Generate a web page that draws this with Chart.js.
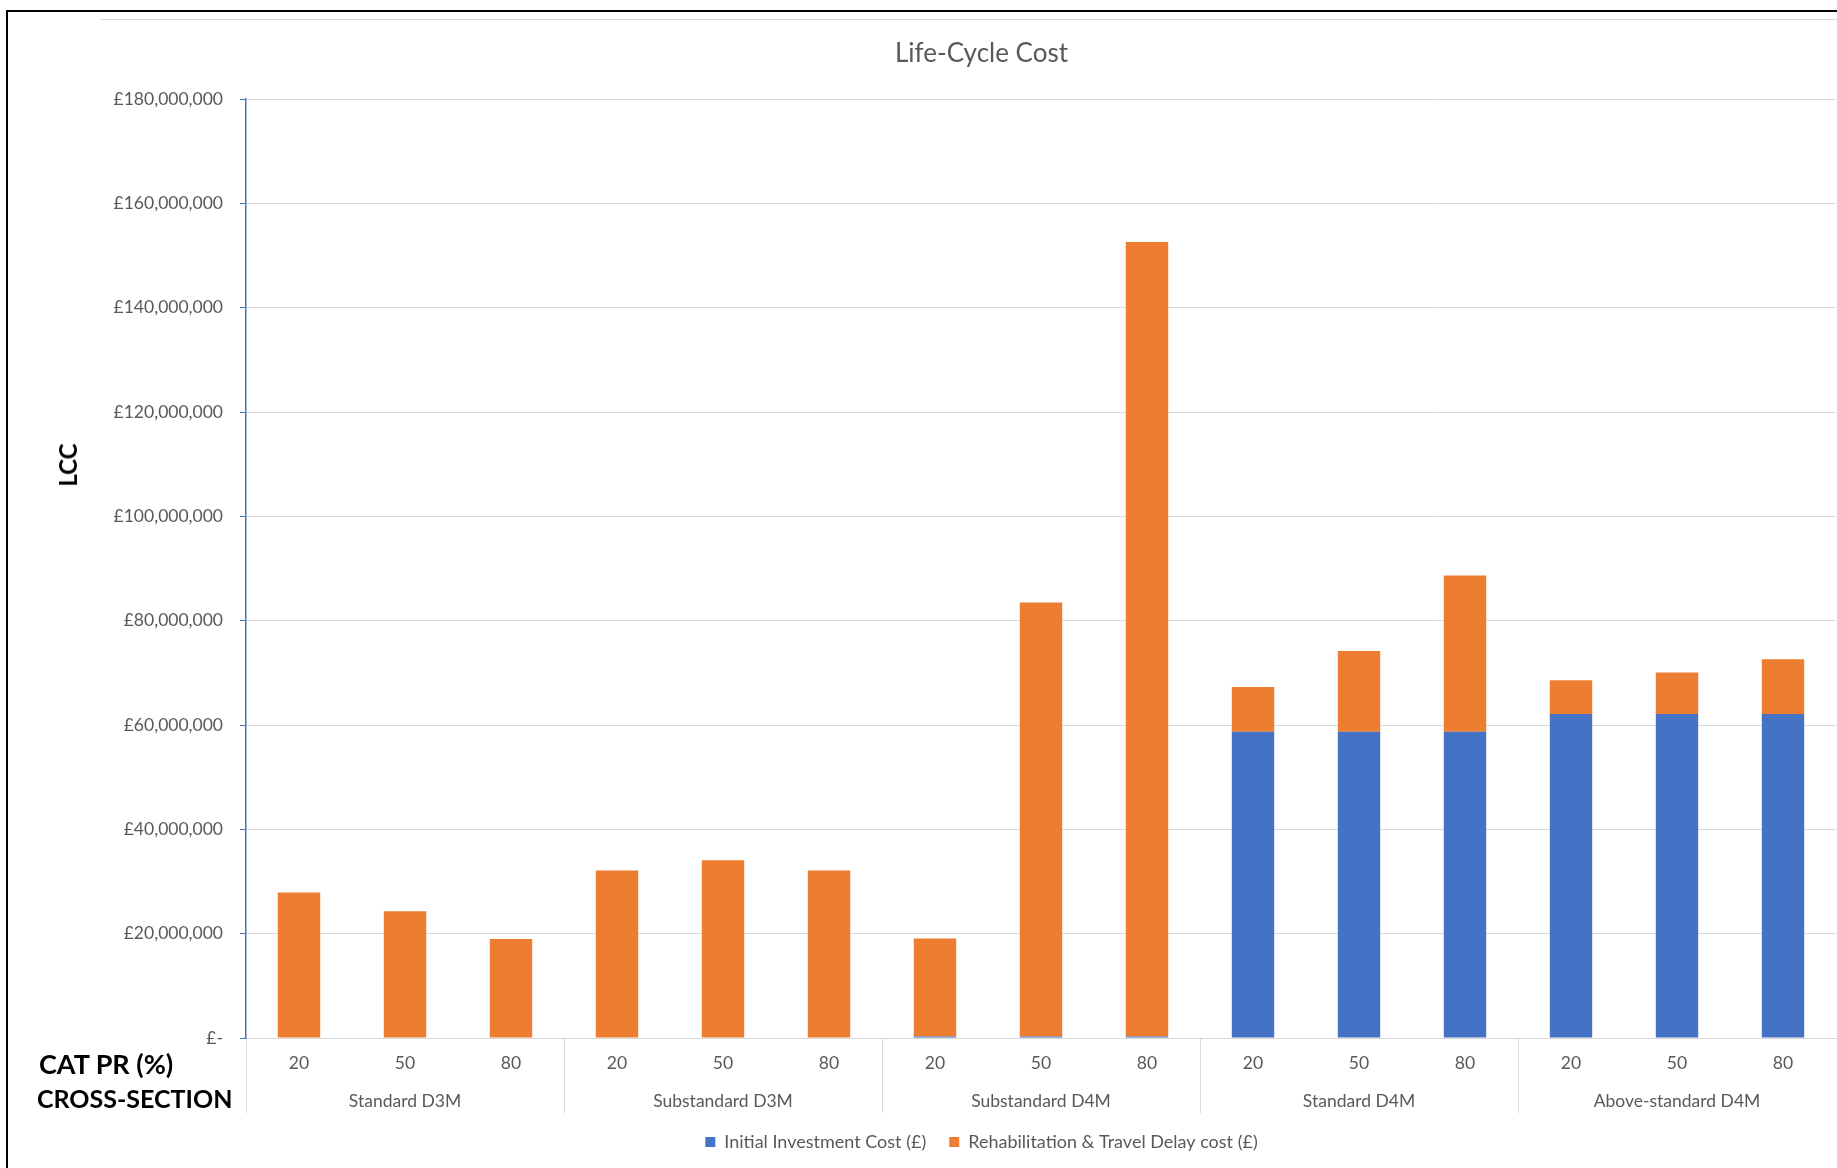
<!DOCTYPE html>
<html>
<head>
<meta charset="utf-8">
<script src="https://cdn.jsdelivr.net/npm/chart.js@4"></script>
<style>
  html, body { margin: 0; padding: 0; background: #fff; overflow: hidden; }
  #wrap { position: relative; width: 1963px; height: 1168px; }
  .note { position: absolute; font-family: Lato, sans-serif; font-weight: bold; color: #000; white-space: nowrap; line-height: 1; }
</style>
</head>
<body>
<div id="wrap">
  <canvas id="lccChart"></canvas>
  <!-- frame of the cropped picture -->
  <div style="position:absolute;left:6px;top:10px;width:2px;height:1158px;background:#000"></div>
  <div style="position:absolute;left:6px;top:10px;width:1900px;height:2px;background:#000"></div>
  <div style="position:absolute;left:100px;top:19px;width:1800px;height:1px;background:#d9d9d9"></div>
  <div class="note" style="left:68px;top:465px;font-size:24px;transform:translate(-50%,-50%) rotate(-90deg)">LCC</div>
  <div class="note" style="left:39px;top:1063px;font-size:27px;transform:translateY(-50%)">CAT PR (%)</div>
  <div class="note" style="left:37px;top:1098px;font-size:25px;transform:translateY(-50%)">CROSS-SECTION</div>
</div>
<script>
  // data
  var catPR = ['20', '50', '80', '20', '50', '80', '20', '50', '80', '20', '50', '80', '20', '50', '80'];
  var crossSections = ['Standard D3M', 'Substandard D3M', 'Substandard D4M', 'Standard D4M', 'Above-standard D4M'];
  var initialCost = [0, 0, 0, 0, 0, 0, 300000, 300000, 300000,
    58700000, 58700000, 58700000, 62100000, 62100000, 62100000];
  var rehabCost = [27900000, 24300000, 19000000, 32100000, 34100000, 32100000,
    18800000, 83200000, 152300000, 8600000, 15500000, 30000000, 6500000, 8000000, 10500000];
  var yTicksMax = 180000000;
  var yTicksStep = 20000000;

  // two level labels: the cross-section name goes under the middle bar of its group
  var xLabels = catPR.map(function(p, i) {
    return i % 3 === 1 ? [p, crossSections[Math.floor(i / 3)]] : p;
  });

  Chart.defaults.font.family = 'Lato, sans-serif';
  Chart.defaults.color = '#595959';

  function money(v) {
    if (v === 0) return '£-';
    return '£' + String(v).replace(/\B(?=(\d{3})+(?!\d))/g, ',');
  }

  var ctx = document.getElementById('lccChart').getContext('2d');
  new Chart(ctx, {
    type: 'bar',
    data: {
      labels: xLabels,
      datasets: [
        { label: 'Initial Investment Cost (£)', data: initialCost, backgroundColor: '#4472C4', borderWidth: 0 },
        { label: 'Rehabilitation & Travel Delay cost (£)', data: rehabCost, backgroundColor: '#ED7D31', borderWidth: 0 }
      ]
    },
    options: {
      responsive: true,
      maintainAspectRatio: false,
      animation: false,
      barPercentage: 0.4,
      categoryPercentage: 1,
      layout: { padding: { left: 0, right: 0, top: 0, bottom: 7 } },
      plugins: {
        title: {
          display: true,
          text: 'Life-Cycle Cost',
          color: '#595959',
          font: { size: 26, weight: 'normal' },
          padding: { top: 38, bottom: 30 }
        },
        legend: {
          position: 'bottom',
          labels: { boxWidth: 10, boxHeight: 10, padding: 23, color: '#595959', font: { size: 18 } }
        },
        tooltip: { enabled: false }
      },
      scales: {
        x: {
          stacked: true,
          offset: true,
          grid: {
            display: true,
            drawOnChartArea: false,
            offset: true,
            tickLength: 75,
            // separators only between the cross-section groups
            color: function(c) { return c.index % 3 === 0 ? '#d9d9d9' : 'rgba(0,0,0,0)'; }
          },
          border: { color: '#d9d9d9' },
          ticks: {
            padding: -69,
            color: '#595959',
            font: { size: 17.5, lineHeight: 2.171 },
            maxRotation: 0,
            autoSkip: false
          },
          afterFit: function(s) { s.height = 72; }
        },
        y: {
          stacked: true,
          min: 0,
          max: yTicksMax,
          border: { color: '#4472C4', width: 1.5 },
          grid: { color: '#d9d9d9', tickColor: '#4472C4', tickLength: 6 },
          ticks: {
            stepSize: yTicksStep,
            padding: 17,
            color: '#595959',
            font: { size: 17.5 },
            callback: function(v) { return money(v); }
          },
          afterFit: function(s) { s.width = 246; }
        },
        // keeps room on the right so the chart runs past the crop like the original
        yRight: {
          type: 'linear',
          position: 'right',
          display: true,
          grid: { display: false },
          border: { display: false },
          ticks: { display: false },
          afterFit: function(s) { s.width = 127; }
        }
      }
    }
  });
</script>
</body>
</html>
